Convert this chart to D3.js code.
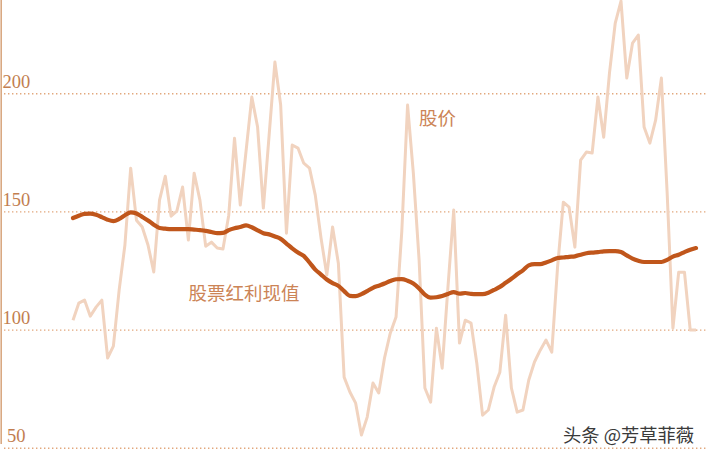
<!DOCTYPE html>
<html>
<head>
<meta charset="utf-8">
<script src="https://cdn.jsdelivr.net/npm/d3@7/dist/d3.min.js"></script>
<style>
  html, body { margin: 0; padding: 0; background: #ffffff; }
  svg { display: block; }
</style>
</head>
<body>
<svg id="chart" width="707" height="456"></svg>
<script>
// ---- data ----
const startYear = 1871;
const yTicks = [50, 100, 150, 200];

const price = [
  104.2, 111.4, 112.7, 105.9, 109.7, 112.7, 88.2, 93.2, 116.9, 136.0,
  168.5, 146.5, 143.6, 136.0, 124.6, 155.0, 165.1, 148.2, 150.3, 160.5,
  138.1, 166.4, 155.0, 135.5, 137.2, 134.7, 134.3, 148.6, 181.2, 152.9,
  175.7, 198.6, 185.9, 151.6, 182.5, 213.4, 195.2, 141.0, 178.3, 177.0,
  170.6, 168.5, 157.1, 138.9, 123.3, 143.6, 128.3, 80.1, 73.8, 69.1,
  55.6, 63.2, 77.6, 73.4, 88.2, 98.7, 105.5, 141.9, 195.2, 166.4,
  129.6, 75.5, 69.5, 100.8, 83.9, 118.2, 150.8, 94.5, 104.2, 103.0,
  86.0, 64.0, 66.2, 75.9, 82.2, 106.3, 75.5, 65.3, 66.2, 78.8,
  86.5, 91.5, 95.8, 90.7, 126.6, 154.1, 152.0, 135.1, 171.9, 175.3,
  174.9, 198.6, 181.6, 208.7, 229.9, 239.2, 206.6, 221.4, 224.8, 185.9,
  179.1, 188.8, 206.6, 158.0, 100.8, 124.5, 124.5, 100.0, 100.0
];

const dividendPV = [
  147.4, 148.4, 149.2, 149.3, 148.8, 147.8, 146.7, 146.1, 147.0, 148.6,
  149.8, 149.3, 147.9, 146.4, 144.6, 143.2, 142.9, 142.7, 142.7, 142.7,
  142.7, 142.5, 142.3, 142.0, 141.5, 141.0, 141.1, 142.3, 143.1, 143.6,
  144.3, 143.5, 142.2, 141.0, 140.5, 139.6, 138.6, 136.6, 134.6, 132.8,
  131.4, 128.6, 125.6, 123.5, 121.4, 119.9, 118.7, 116.5, 114.5, 114.4,
  115.2, 116.5, 117.9, 118.8, 119.7, 120.8, 121.5, 121.6, 120.9, 119.7,
  117.6, 115.0, 113.7, 113.9, 114.4, 115.3, 116.1, 115.4, 115.7, 115.3,
  115.2, 115.2, 115.8, 117.0, 118.3, 120.0, 121.7, 123.6, 125.3, 127.4,
  127.9, 127.9, 128.6, 129.5, 130.5, 130.7, 131.0, 131.2, 131.9, 132.5,
  132.8, 133.0, 133.3, 133.4, 133.4, 133.0, 131.6, 130.2, 129.3, 128.8,
  128.8, 128.8, 128.8, 129.7, 131.1, 131.9, 133.0, 134.0, 134.7
];

const labelPrice = "股价";
const labelPV = "股票红利现值";
const watermark = "头条 @芳草菲薇";

// ---- drawing ----
const W = 707, H = 456;
const svg = d3.select("#chart");

const years = price.map((_, i) => startYear + i);

const x = d3.scaleLinear()
  .domain([startYear, startYear + price.length - 1])
  .range([73, 696]);

const y = d3.scaleLinear()
  .domain([50, 200])
  .range([448.3, 93.7]);

// left axis line
svg.append("line")
  .attr("x1", 1.2).attr("x2", 1.2)
  .attr("y1", 0).attr("y2", 444)
  .attr("stroke", "#d9a982")
  .attr("stroke-width", 1.6);

// gridlines + tick labels
const grid = svg.append("g");
grid.selectAll("line")
  .data(yTicks)
  .join("line")
  .attr("x1", 4).attr("x2", W)
  .attr("y1", d => y(d)).attr("y2", d => y(d))
  .attr("stroke", "#e2a77c")
  .attr("stroke-width", 1.4)
  .attr("stroke-dasharray", "1.4,2.6");

grid.selectAll("text")
  .data(yTicks)
  .join("text")
  .attr("x", d => d < 100 ? 7 : 2.5)
  .attr("y", d => y(d) - 6)
  .attr("fill", "#c27e50")
  .attr("font-family", "'Liberation Serif', 'DejaVu Serif', serif")
  .attr("font-size", 18.5)
  .text(d => d);

// price line
const line = d3.line()
  .x((d, i) => x(years[i]))
  .y(d => y(d));

svg.append("path")
  .datum(price)
  .attr("d", line)
  .attr("fill", "none")
  .attr("stroke", "#f1d3bf")
  .attr("stroke-width", 3)
  .attr("stroke-linejoin", "round");

// dividend PV line
svg.append("path")
  .datum(dividendPV)
  .attr("d", line.curve(d3.curveMonotoneX))
  .attr("fill", "none")
  .attr("stroke", "#c0561b")
  .attr("stroke-width", 4.2)
  .attr("stroke-linejoin", "round")
  .attr("stroke-linecap", "round");

// labels
svg.append("text")
  .attr("x", 419).attr("y", 125)
  .attr("fill", "#cc8456")
  .attr("font-family", "'Noto Sans CJK SC', sans-serif")
  .attr("font-size", 18.5)
  .text(labelPrice);

svg.append("text")
  .attr("x", 188.5).attr("y", 300)
  .attr("fill", "#cc8456")
  .attr("font-family", "'Noto Sans CJK SC', sans-serif")
  .attr("font-size", 18.5)
  .text(labelPV);

// watermark
svg.append("text")
  .attr("x", 563).attr("y", 442)
  .attr("fill", "#3a3a3a")
  .attr("stroke", "#ffffff")
  .attr("stroke-width", 2.5)
  .attr("paint-order", "stroke")
  .attr("font-family", "'Noto Sans CJK SC', sans-serif")
  .attr("font-size", 18.3)
  .text(watermark);
</script>
</body>
</html>
